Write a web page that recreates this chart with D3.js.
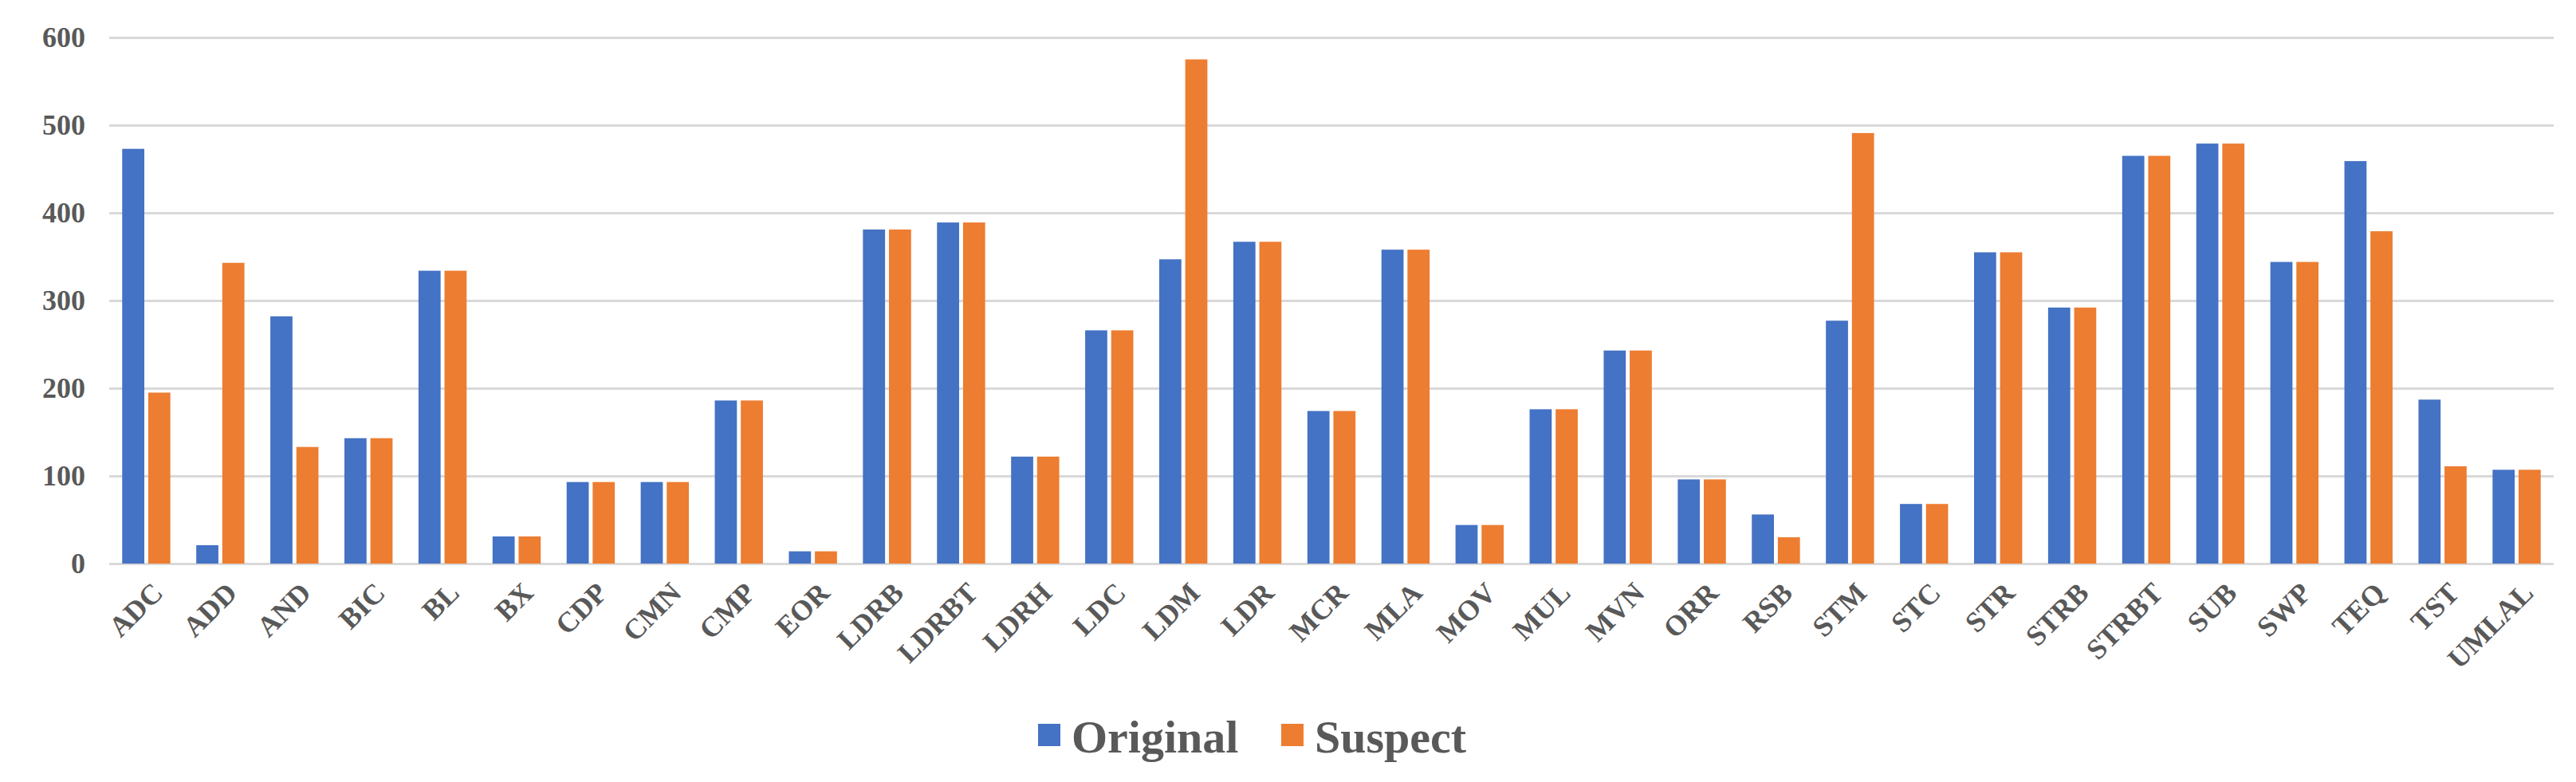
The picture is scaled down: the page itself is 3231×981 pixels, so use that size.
<!DOCTYPE html>
<html>
<head>
<meta charset="utf-8">
<script src="https://cdnjs.cloudflare.com/ajax/libs/d3/7.8.5/d3.min.js"></script>
<style>
  body { margin: 0; background: #fff; }
  text { font-family: "Liberation Serif", "DejaVu Serif", serif; font-weight: bold; fill: #595959; }
</style>
</head>
<body>
<div id="chart"></div>
<script>
// chart data
var categories = ["ADC","ADD","AND","BIC","BL","BX","CDP","CMN","CMP","EOR","LDRB","LDRBT","LDRH","LDC","LDM","LDR","MCR","MLA","MOV","MUL","MVN","ORR","RSB","STM","STC","STR","STRB","STRBT","SUB","SWP","TEQ","TST","UMLAL"];
var original = [473,21,282,143,334,31,93,93,186,14,381,389,122,266,347,367,174,358,44,176,243,96,56,277,68,355,292,465,479,344,459,187,107];
var suspect  = [195,343,133,143,334,31,93,93,186,14,381,389,122,266,575,367,174,358,44,176,243,96,30,491,68,355,292,465,479,344,379,111,107];
var seriesNames = ["Original", "Suspect"];
var seriesColors = ["#4472c4", "#ed7d31"];
var yTicks = [0,100,200,300,400,500,600];

var svgWidth = 3231;
var svgHeight = 981;
var margin = { top: 47, bottom: 274, left: 137, right: 28 };
var chartWidth = svgWidth - margin.left - margin.right;
var chartHeight = svgHeight - margin.top - margin.bottom;

var svg = d3.select("#chart").append("svg")
  .attr("width", svgWidth)
  .attr("height", svgHeight);

var chartGroup = svg.append("g")
  .attr("transform", `translate(${margin.left}, ${margin.top})`);

var x0 = d3.scaleBand().domain(categories).range([0, chartWidth]).paddingInner(0.35).paddingOuter(0.175);
var x1 = d3.scaleBand().domain(seriesNames).range([0, x0.bandwidth()]).paddingInner(0.15);
var y = d3.scaleLinear().domain([0, 600]).range([chartHeight, 0]);

// gridlines
chartGroup.append("g")
  .call(d3.axisLeft(y).tickValues(yTicks).tickSize(-chartWidth).tickFormat(""))
  .call(g => g.select(".domain").remove())
  .selectAll("line").attr("stroke", "#d9d9d9").attr("stroke-width", 3);

// y labels
chartGroup.append("g")
  .call(d3.axisLeft(y).tickValues(yTicks).tickSize(0).tickPadding(30))
  .call(g => g.select(".domain").remove())
  .selectAll("text").style("font-size", "36px").attr("fill", "#595959");

// bars
var rows = categories.map((c, i) => ({ cat: c, vals: [original[i], suspect[i]] }));
var groups = chartGroup.selectAll(".grp").data(rows).enter().append("g")
  .attr("transform", d => `translate(${x0(d.cat)},0)`);
groups.selectAll("rect")
  .data(d => d.vals.map((v, j) => ({ s: seriesNames[j], v: v, c: seriesColors[j] })))
  .enter().append("rect")
  .attr("x", d => x1(d.s))
  .attr("width", x1.bandwidth())
  .attr("y", d => y(d.v))
  .attr("height", d => chartHeight - y(d.v))
  .attr("fill", d => d.c);

// x labels
chartGroup.append("g")
  .attr("transform", `translate(0, ${chartHeight})`)
  .call(d3.axisBottom(x0).tickSize(0).tickPadding(0))
  .call(g => g.select(".domain").remove())
  .selectAll("text")
  .style("font-size", "36px")
  .attr("text-anchor", "end")
  .attr("transform", "translate(14, 30) rotate(-45)")
  .attr("dy", "0.35em");

// legend
var legend = svg.append("g").attr("transform", "translate(1302, 944)");
var lx = [0, 305];
seriesNames.forEach(function(name, i) {
  legend.append("rect").attr("x", lx[i]).attr("y", -36).attr("width", 28).attr("height", 28).attr("fill", seriesColors[i]);
  legend.append("text").attr("x", lx[i] + 42).attr("y", 0).style("font-size", "58px").text(name);
});
</script>
</body>
</html>
